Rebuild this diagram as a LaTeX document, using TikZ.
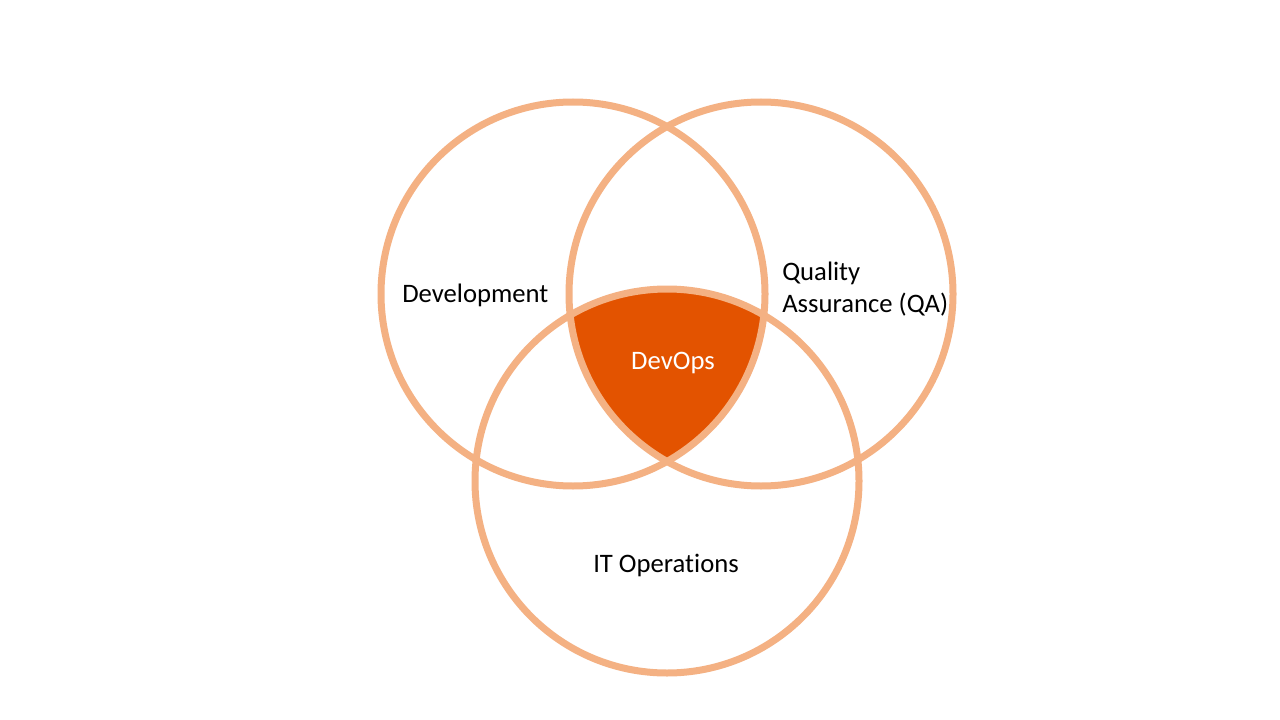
\documentclass[tikz,border=0pt]{standalone}
\usepackage{fontspec}
\setmainfont{Carlito}[Ligatures={NoCommon,NoRare}]
\definecolor{ringc}{HTML}{F4B183}
\definecolor{corec}{HTML}{E35300}
\begin{document}
\begin{tikzpicture}[x=0.75pt,y=-0.75pt,
  ring/.style={draw=ringc,line width=5.25pt},
  lbl/.style={font=\fontsize{20}{24}\selectfont,inner sep=0pt,text=black}]
\useasboundingbox (0,0) rectangle (1280,720);
\fill[white] (0,0) rectangle (1280,720);
\coordinate (c1) at (573,294);
\coordinate (c2) at (761,294);
\coordinate (c3) at (667,481);
\begin{scope}
  \clip (c1) circle[radius=192];
  \clip (c2) circle[radius=192];
  \fill[corec] (c3) circle[radius=192];
\end{scope}
\draw[ring] (c1) circle[radius=192];
\draw[ring] (c2) circle[radius=192];
\draw[ring] (c3) circle[radius=192];
\node[lbl,anchor=base west] (dev) at (402,302) {Development};
\node[lbl,anchor=base west,align=left] (qa) at (782,312) {Quality\\Assurance (QA)};
\node[lbl,anchor=base,text=white] (devops) at (673,369) {DevOps};
\node[lbl,anchor=base] (itops) at (666,572) {IT Operations};
\end{tikzpicture}
\end{document}
